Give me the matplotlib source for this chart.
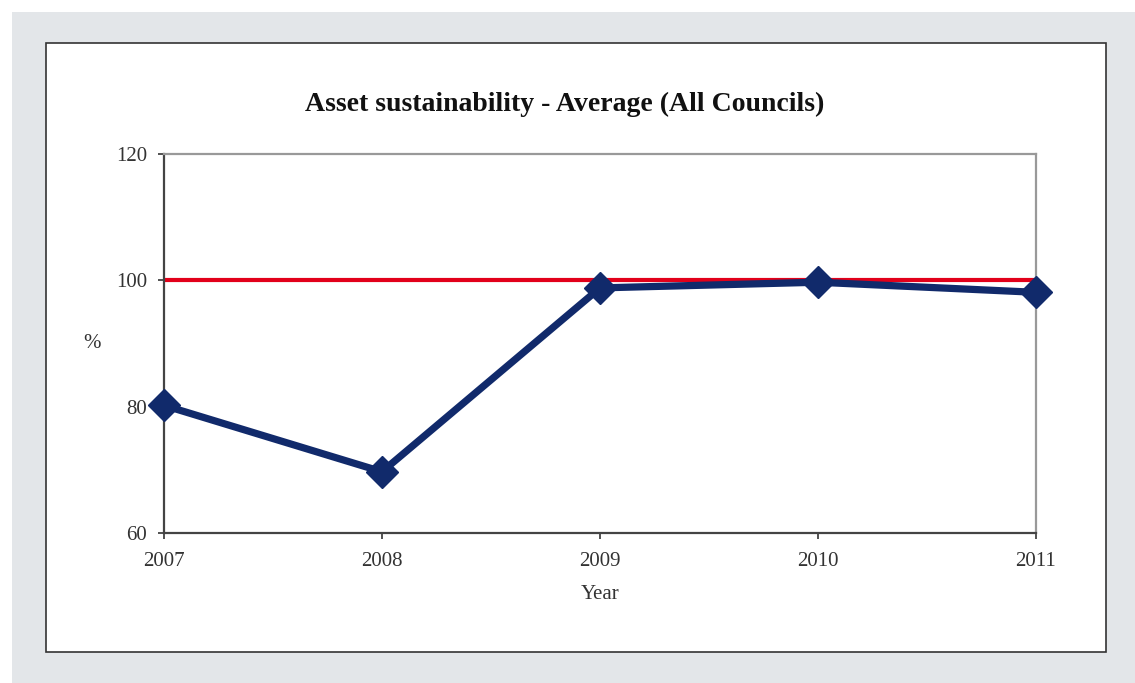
import matplotlib.pyplot as plt
from matplotlib.patches import Rectangle

years = [2007, 2008, 2009, 2010, 2011]
average = [80.2, 69.7, 98.8, 99.7, 98.1]
benchmark = 100
y_ticks = [60, 80, 100, 120]

plt.rcParams['font.family'] = ['Liberation Serif', 'DejaVu Serif']

fig = plt.figure(figsize=(11.35, 6.83), dpi=100)
W, H = 1135, 683

# grey backdrop and white chart panel
fig.patches.append(Rectangle((12 / W, 0), 1 - 12 / W, 1 - 12 / H, transform=fig.transFigure,
                             facecolor='#e3e6e9', edgecolor='none', zorder=0))
fig.patches.append(Rectangle((46 / W, 1 - 652 / H), (1106 - 46) / W, (652 - 43) / H,
                             transform=fig.transFigure, facecolor='white',
                             edgecolor='#333333', linewidth=1.2, zorder=1))

ax = fig.add_axes([164 / W, 1 - 533 / H, (1036 - 164) / W, (533 - 154) / H])
ax.set_zorder(2)

ax.axhline(benchmark, color='#e2001a', linewidth=3, zorder=2)
ax.plot(years, average, color='#112a6b', linewidth=5.2, marker='D', markersize=16.5,
        zorder=3, clip_on=False)

ax.set_xlim(years[0], years[-1])
ax.set_ylim(y_ticks[0], y_ticks[-1])
ax.set_xticks(years)
ax.set_yticks(y_ticks)
ax.tick_params(labelsize=15, colors='#333333', length=4, width=1.2)
ax.tick_params(axis='y', pad=8)
ax.tick_params(axis='x', pad=10)

for side in ['left', 'bottom']:
    ax.spines[side].set_color('#444444')
    ax.spines[side].set_linewidth(1.6)
for side in ['top', 'right']:
    ax.spines[side].set_color('#999999')
    ax.spines[side].set_linewidth(1.6)

ax.set_xlabel('Year', fontsize=15, color='#333333', labelpad=10)
ax.set_ylabel('%', fontsize=15, color='#333333', rotation=0, va='center', ha='center')
ax.yaxis.set_label_coords(-0.082, 0.5)

fig.text(565 / W, 1 - 104 / H, 'Asset sustainability - Average (All Councils)',
         ha='center', va='center', fontsize=20, fontweight='bold', color='#111111')

fig.savefig('out.png', dpi=100)
